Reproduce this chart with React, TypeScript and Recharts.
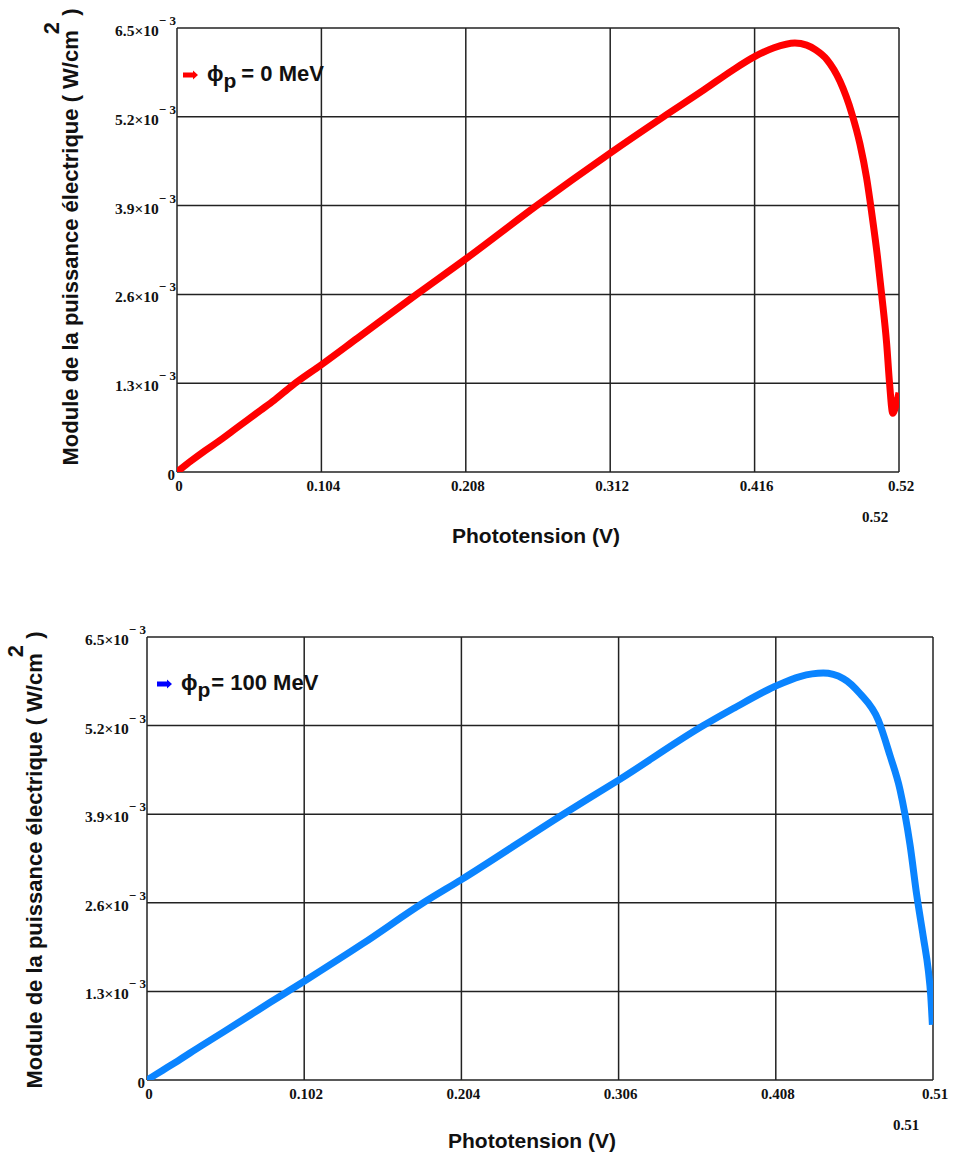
import React from 'react';
import { LineChart, Line, XAxis, YAxis, CartesianGrid, Customized } from 'recharts';

// Phototension (V) and power module (in units of 10^-3 W/cm²)
const voltage0MeV = [0, 0.01, 0.02, 0.03, 0.04, 0.05, 0.06, 0.07, 0.0826, 0.104, 0.13, 0.1726, 0.208, 0.259, 0.312, 0.3503, 0.38, 0.4, 0.416, 0.43, 0.445, 0.4535, 0.46, 0.468, 0.4775, 0.486, 0.4919, 0.4967, 0.5003, 0.5045, 0.5075, 0.5111, 0.5132, 0.5155, 0.5184, 0.52];
const power0MeV = [0, 0.16, 0.31, 0.45, 0.6, 0.75, 0.9, 1.05, 1.26, 1.57, 1.96, 2.6, 3.12, 3.9, 4.67, 5.2, 5.6, 5.88, 6.08, 6.21, 6.28, 6.25, 6.18, 6.04, 5.72, 5.25, 4.8, 4.3, 3.8, 3.15, 2.6, 1.88, 1.3, 0.86, 1.03, 1.16];

const voltage100MeV = [0, 0.01, 0.02, 0.0344, 0.05, 0.0668, 0.08, 0.0928, 0.102, 0.14, 0.1793, 0.204, 0.2701, 0.306, 0.361, 0.3804, 0.407, 0.4237, 0.4388, 0.4518, 0.4626, 0.4745, 0.4821, 0.4886, 0.4918, 0.4951, 0.4994, 0.5037, 0.507, 0.5085, 0.5096];
const power100MeV = [0, 0.14, 0.28, 0.49, 0.71, 0.95, 1.14, 1.32, 1.45, 2.0, 2.6, 2.94, 3.9, 4.4, 5.2, 5.45, 5.77, 5.92, 5.97, 5.89, 5.67, 5.28, 4.76, 4.26, 3.9, 3.45, 2.72, 2.1, 1.6, 1.25, 0.81];

const xTicks0MeV = [0, 0.104, 0.208, 0.312, 0.416, 0.52];
const xTicks100MeV = [0, 0.102, 0.204, 0.306, 0.408, 0.51];
const yTicks = [0, 1.3, 2.6, 3.9, 5.2, 6.5];
const yExponent = '\u2212 3';

const legend0 = '= 0 MeV';
const legend100 = '= 100 MeV';
const xTitle = 'Phototension (V)';
const yTitle = 'Module de la puissance électrique ( W/cm';
const endLabel0 = '0.52';
const endLabel100 = '0.51';

const data0 = voltage0MeV.map((v, i) => ({ v, p: power0MeV[i] }));
const data100 = voltage100MeV.map((v, i) => ({ v, p: power100MeV[i] }));

const serif = '"Liberation Serif", "DejaVu Serif", serif';
const sans = '"Liberation Sans", Arial, sans-serif';

const fmtX = (v: number) => (v === 0 ? '0' : String(v));

const XTick = (props: any) => {
  const { x, y, payload } = props;
  return (
    <text x={x + 2} y={y + 19} textAnchor="middle" fontFamily={serif} fontWeight="bold" fontSize={15} fill="#111">
      {fmtX(payload.value)}
    </text>
  );
};

const YTick = (props: any) => {
  const { x, y, payload } = props;
  if (payload.value === 0) {
    return (
      <text x={x - 2} y={y + 8} textAnchor="end" fontFamily={serif} fontWeight="bold" fontSize={15} fill="#111">0</text>
    );
  }
  return (
    <text x={x - 1} y={y + 8} textAnchor="end" fontFamily={serif} fontWeight="bold" fontSize={15.5} fill="#111">
      {`${payload.value.toFixed(1)}\u00D710`}
      <tspan dy={-11} fontSize={13}>{yExponent}</tspan>
    </text>
  );
};

type OverlayProps = {
  yTitleX: number;
  yTitleY: number;
  xTitleX: number;
  xTitleY: number;
  legendX: number;
  legendY: number;
  legendColor: string;
  legendText: string;
  endX: number;
  endY: number;
  endText: string;
  subGap: number;
};

const makeOverlay = (o: OverlayProps) => () => (
  <g>
    <text
      x={o.yTitleX}
      y={o.yTitleY}
      transform={`rotate(-90, ${o.yTitleX}, ${o.yTitleY})`}
      textAnchor="middle"
      fontFamily={sans}
      fontWeight="bold"
      fontSize={22}
      fill="#111"
    >
      {yTitle}
      <tspan dy={-19} dx={-4} fontSize={22}>2</tspan>
      <tspan dy={19}>{' )'}</tspan>
    </text>
    <text x={o.xTitleX} y={o.xTitleY} textAnchor="middle" fontFamily={sans} fontWeight="bold" fontSize={21} fill="#111">
      {xTitle}
    </text>
    <path
      d={`M ${o.legendX} ${o.legendY - 2.5} L ${o.legendX + 10} ${o.legendY - 2.5} L ${o.legendX + 10} ${o.legendY - 4.5} L ${o.legendX + 15} ${o.legendY} L ${o.legendX + 10} ${o.legendY + 4.5} L ${o.legendX + 10} ${o.legendY + 2.5} L ${o.legendX} ${o.legendY + 2.5} Z`}
      fill={o.legendColor}
    />
    <text x={o.legendX + 24} y={o.legendY + 6} fontFamily={sans} fontWeight="bold" fontSize={22} fill="#111">
      {'\u03D5'}
      <tspan dy={7} fontSize={21}>p</tspan>
      <tspan dy={-7} dx={o.subGap}>{o.legendText}</tspan>
    </text>
    <text x={o.endX} y={o.endY} textAnchor="middle" fontFamily={serif} fontWeight="bold" fontSize={15} fill="#111">
      {o.endText}
    </text>
  </g>
);

const overlay0 = makeOverlay({
  yTitleX: 78,
  yTitleY: 237,
  xTitleX: 536,
  xTitleY: 543,
  legendX: 183,
  legendY: 75,
  legendColor: '#ff0000',
  legendText: legend0,
  endX: 875,
  endY: 522,
  endText: endLabel0,
  subGap: 5,
});

const OFFSET2 = 580;
const overlay100 = makeOverlay({
  yTitleX: 42,
  yTitleY: 860 - OFFSET2,
  xTitleX: 532,
  xTitleY: 1148 - OFFSET2,
  legendX: 157,
  legendY: 684 - OFFSET2,
  legendColor: '#0000ff',
  legendText: legend100,
  endX: 906,
  endY: 1130 - OFFSET2,
  endText: endLabel100,
  subGap: 1,
});

const gridStroke = '#222';

export default function App() {
  return (
    <div style={{ position: 'absolute', left: 0, top: 0, width: 955, height: 1158, background: '#fff' }}>
      <div style={{ position: 'absolute', left: 0, top: 0 }}>
        <LineChart width={955} height={560} data={data0} margin={{ top: 28, right: 56, bottom: 58, left: 77 }}>
          <CartesianGrid stroke={gridStroke} strokeWidth={1.5} />
          <XAxis
            dataKey="v"
            type="number"
            domain={[0, 0.52]}
            ticks={xTicks0MeV}
            tick={<XTick />}
            tickLine={false}
            axisLine={false}
            tickSize={0}
            tickMargin={0}
            height={30}
            interval={0}
            allowDataOverflow
          />
          <YAxis
            type="number"
            domain={[0, 6.5]}
            ticks={yTicks}
            tick={<YTick />}
            tickLine={false}
            axisLine={false}
            tickSize={0}
            tickMargin={0}
            width={100}
            interval={0}
            allowDataOverflow
          />
          <Line type="monotone" dataKey="p" stroke="#ff0000" strokeWidth={7} dot={false} isAnimationActive={false} />
          <Customized component={overlay0} />
        </LineChart>
      </div>
      <div style={{ position: 'absolute', left: 0, top: OFFSET2 }}>
        <LineChart width={955} height={578} data={data100} margin={{ top: 57, right: 22, bottom: 48, left: 47 }}>
          <CartesianGrid stroke={gridStroke} strokeWidth={1.5} />
          <XAxis
            dataKey="v"
            type="number"
            domain={[0, 0.51]}
            ticks={xTicks100MeV}
            tick={<XTick />}
            tickLine={false}
            axisLine={false}
            tickSize={0}
            tickMargin={0}
            height={30}
            interval={0}
            allowDataOverflow
          />
          <YAxis
            type="number"
            domain={[0, 6.5]}
            ticks={yTicks}
            tick={<YTick />}
            tickLine={false}
            axisLine={false}
            tickSize={0}
            tickMargin={0}
            width={100}
            interval={0}
            allowDataOverflow
          />
          <Line type="monotone" dataKey="p" stroke="#0a84ff" strokeWidth={7} dot={false} isAnimationActive={false} />
          <Customized component={overlay100} />
        </LineChart>
      </div>
    </div>
  );
}
